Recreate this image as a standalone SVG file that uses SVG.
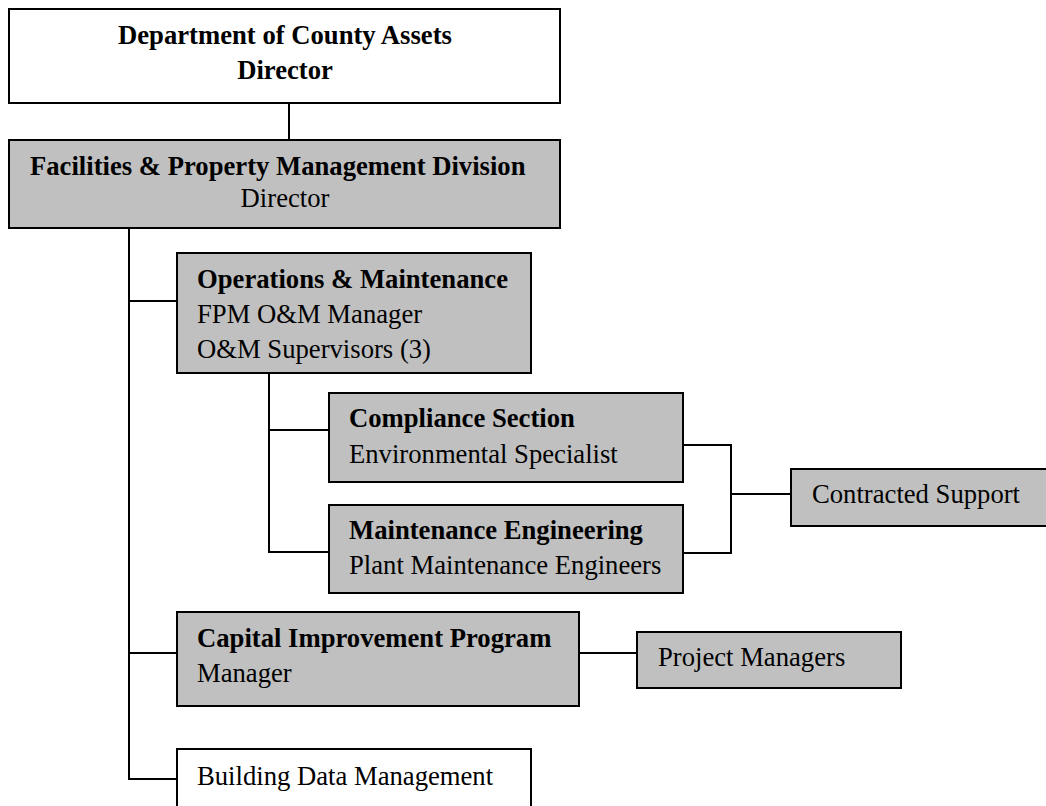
<svg xmlns="http://www.w3.org/2000/svg" width="1046" height="806" viewBox="0 0 1046 806">
<style>
.box{stroke:#000;stroke-width:2}
.g{fill:#c0c0c0}
.w{fill:#fff}
.t{font-family:"Liberation Serif","Times New Roman",serif;font-size:26.67px;fill:#000}
.b{font-weight:bold}
.c{text-anchor:middle}
.ln{fill:none;stroke:#000;stroke-width:2}
</style>
<rect width="1046" height="806" fill="#fff"/>
<g id="connectors">
<path class="ln" d="M289,103 V140"/>
<path class="ln" d="M129,228 V779 H177"/>
<path class="ln" d="M129,301 H177"/>
<path class="ln" d="M129,653 H177"/>
<path class="ln" d="M269,373 V552 H329"/>
<path class="ln" d="M269,430 H329"/>
<path class="ln" d="M683,445 H731 V553 H683"/>
<path class="ln" d="M731,494 H791"/>
<path class="ln" d="M579,653 H637"/>
</g>
<g id="dca">
<rect class="box w" x="9" y="9" width="551" height="94"/>
<text class="t b c" x="285" y="44">Department of County Assets</text>
<text class="t b c" x="285" y="79">Director</text>
</g>
<g id="fpm">
<rect class="box g" x="9" y="140" width="551" height="88"/>
<text class="t b" x="30" y="175">Facilities &amp; Property Management Division</text>
<text class="t c" x="285" y="207">Director</text>
</g>
<g id="om">
<rect class="box g" x="177" y="253" width="354" height="120"/>
<text class="t b" x="197" y="288">Operations &amp; Maintenance</text>
<text class="t" x="197" y="323">FPM O&amp;M Manager</text>
<text class="t" x="197" y="358">O&amp;M Supervisors (3)</text>
</g>
<g id="compliance">
<rect class="box g" x="329" y="393" width="354" height="89"/>
<text class="t b" x="349" y="427">Compliance Section</text>
<text class="t" x="349" y="463">Environmental Specialist</text>
</g>
<g id="maint-eng">
<rect class="box g" x="329" y="505" width="354" height="88"/>
<text class="t b" x="349" y="539">Maintenance Engineering</text>
<text class="t" x="349" y="574">Plant Maintenance Engineers</text>
</g>
<g id="contracted">
<rect class="box g" x="791" y="469" width="262" height="57"/>
<text class="t" x="812" y="503">Contracted Support</text>
</g>
<g id="cip">
<rect class="box g" x="177" y="612" width="402" height="94"/>
<text class="t b" x="197" y="647">Capital Improvement Program</text>
<text class="t" x="197" y="682">Manager</text>
</g>
<g id="pm">
<rect class="box g" x="637" y="632" width="264" height="56"/>
<text class="t" x="658" y="666">Project Managers</text>
</g>
<g id="bdm">
<rect class="box w" x="177" y="749" width="354" height="64"/>
<text class="t" x="197" y="785">Building Data Management</text>
</g>
</svg>
